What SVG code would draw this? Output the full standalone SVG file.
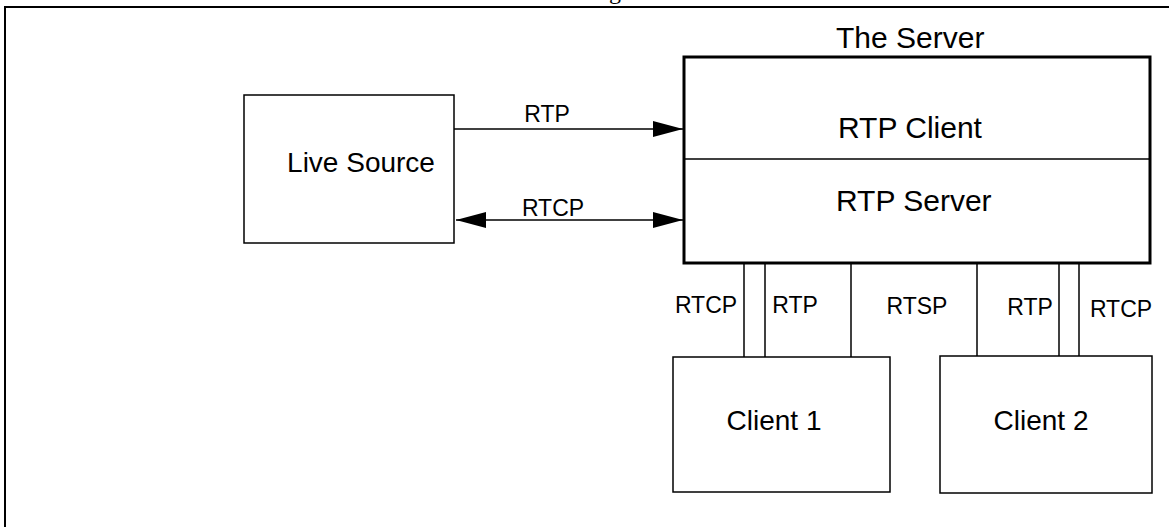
<svg xmlns="http://www.w3.org/2000/svg" width="1169" height="527" viewBox="0 0 1169 527">
<style>
.box{fill:#fff;stroke:#000;stroke-width:1.5}
.srv{fill:#fff;stroke:#000;stroke-width:3}
.ln{stroke:#000;stroke-width:1.5;fill:none}
.big{font-family:"Liberation Sans",Arial,sans-serif;font-size:28px;fill:#000}
.sv{font-family:"Liberation Sans",Arial,sans-serif;font-size:30px;fill:#000}
.sm{font-family:"Liberation Sans",Arial,sans-serif;font-size:23px;fill:#000}
</style>
<defs>
<marker id="ah" viewBox="0 0 30 16" refX="30" refY="8" markerWidth="30" markerHeight="16" markerUnits="userSpaceOnUse" orient="auto-start-reverse">
<path d="M0,0 L30,8 L0,16 Z" fill="#000"/>
</marker>
</defs>
<rect width="1169" height="527" fill="#fff"/>
<text x="609" y="-1" style="font-family:'Liberation Serif',serif;font-size:24px">g</text>
<path d="M5,527 V7 H1169" fill="none" stroke="#000" stroke-width="2"/>
<g id="live-source">
<rect class="box" x="244" y="95" width="210" height="148"/>
<text class="big" x="361" y="172" text-anchor="middle">Live Source</text>
</g>
<g id="server">
<text class="sv" x="836" y="48">The Server</text>
<rect class="srv" x="684" y="57" width="466" height="206"/>
<line class="ln" x1="684" y1="159" x2="1150" y2="159"/>
<text class="sv" x="838" y="138">RTP Client</text>
<text class="sv" x="836" y="211">RTP Server</text>
</g>
<g id="client1">
<rect class="box" x="673" y="357" width="217" height="135"/>
<text class="big" x="774" y="430" text-anchor="middle">Client 1</text>
</g>
<g id="client2">
<rect class="box" x="940" y="356" width="212" height="137"/>
<text class="big" x="1041" y="430" text-anchor="middle">Client 2</text>
</g>
<g id="connectors">
<line class="ln" x1="454" y1="129" x2="683" y2="129" marker-end="url(#ah)"/>
<line class="ln" x1="456" y1="220" x2="683" y2="220" marker-start="url(#ah)" marker-end="url(#ah)"/>
<line class="ln" x1="744" y1="264" x2="744" y2="357"/>
<line class="ln" x1="765" y1="264" x2="765" y2="357"/>
<line class="ln" x1="851" y1="264" x2="851" y2="357"/>
<line class="ln" x1="977" y1="264" x2="977" y2="356"/>
<line class="ln" x1="1059" y1="264" x2="1059" y2="356"/>
<line class="ln" x1="1079" y1="264" x2="1079" y2="356"/>
<text class="sm" x="547" y="122" text-anchor="middle">RTP</text>
<text class="sm" x="553" y="216" text-anchor="middle">RTCP</text>
<text class="sm" x="706" y="313" text-anchor="middle">RTCP</text>
<text class="sm" x="795" y="313" text-anchor="middle">RTP</text>
<text class="sm" x="917" y="314" text-anchor="middle">RTSP</text>
<text class="sm" x="1030" y="315" text-anchor="middle">RTP</text>
<text class="sm" x="1121" y="317" text-anchor="middle">RTCP</text>
</g>
</svg>
